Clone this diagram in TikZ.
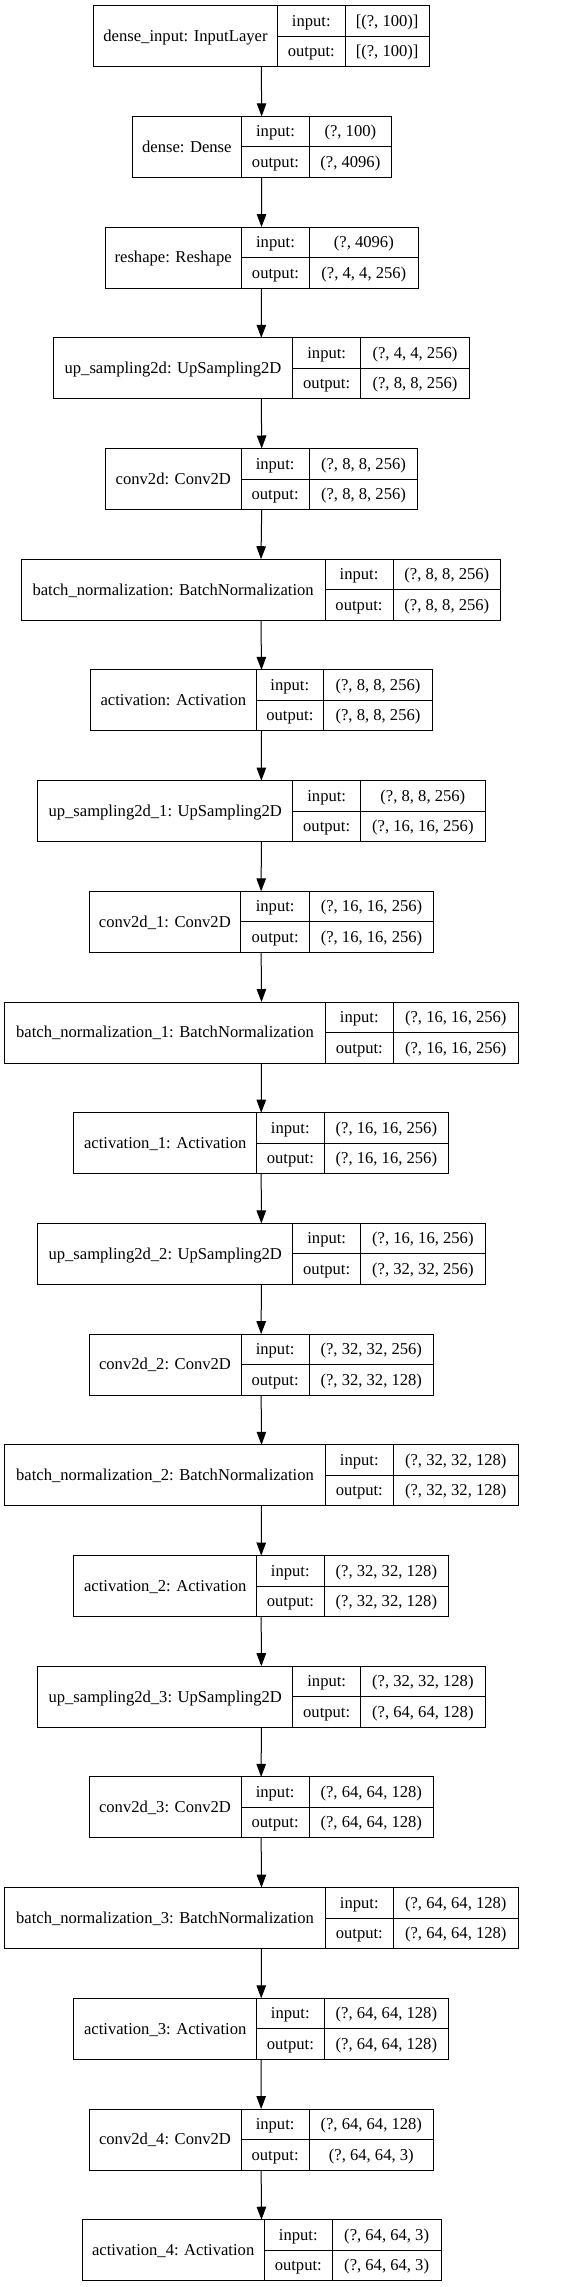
\documentclass[tikz,border=0pt]{standalone}
\usepackage{fontspec}
\setmainfont{Liberation Serif}
\usetikzlibrary{arrows.meta}
\tikzset{
  layerframe/.style={draw=black, line width=1pt, rectangle, inner sep=0pt, outer sep=0pt, minimum height=61pt},
  cellline/.style={draw=black, line width=1pt},
  celltext/.style={anchor=base, inner sep=0pt, font=\fontsize{16.6}{20}\selectfont},
  flow/.style={draw=black, line width=1pt, -{Triangle[length=13pt, width=9.5pt]}}
}
\newcommand\layerbox[8]{%
  \pgfmathsetmacro\ytop{5.7+#1*110.7}%
  \pgfmathsetmacro\bw{#5-#2}%
  \pgfmathsetmacro\bx{(#2+#5)/2}%
  \pgfmathsetmacro\ymid{\ytop+30.5}%
  \node[layerframe, minimum width=\bw pt] (b#1) at (\bx,\ymid) {};
  \draw[cellline] (#3,\ytop) -- (#3,{\ytop+61});
  \draw[cellline] (#4,\ytop) -- (#4,{\ytop+61});
  \draw[cellline] (#3,\ymid) -- (#5,\ymid);
  \node[celltext] (n#1) at ({(#2+#3)/2},{\ymid+5.3}) {#6};
  \node[celltext] (i#1) at ({(#3+#4)/2},{\ytop+15.25+5.3}) {input:};
  \node[celltext] (o#1) at ({(#3+#4)/2},{\ytop+45.75+5.3}) {output:};
  \node[celltext] (iv#1) at ({(#4+#5)/2},{\ytop+15.25+5.3}) {#7};
  \node[celltext] (ov#1) at ({(#4+#5)/2},{\ytop+45.75+5.3}) {#8};
}
\begin{document}
\begin{tikzpicture}[x=1pt,y=-1pt]
\useasboundingbox (0,0) rectangle (565,2287);
\fill[white] (0,0) rectangle (565,2287);
\layerbox{0}{93.7}{277.3}{345.3}{429}{dense\_input: InputLayer}{[(?, 100)]}{[(?, 100)]}
\layerbox{1}{132.3}{241.3}{309.7}{391}{dense: Dense}{(?, 100)}{(?, 4096)}
\layerbox{2}{105}{241.3}{309.7}{418}{reshape: Reshape}{(?, 4096)}{(?, 4, 4, 256)}
\layerbox{3}{53.3}{292.7}{360.7}{469.3}{up\_sampling2d: UpSampling2D}{(?, 4, 4, 256)}{(?, 8, 8, 256)}
\layerbox{4}{105.7}{241}{309.3}{417.7}{conv2d: Conv2D}{(?, 8, 8, 256)}{(?, 8, 8, 256)}
\layerbox{5}{21.3}{325}{393}{500.7}{batch\_normalization: BatchNormalization}{(?, 8, 8, 256)}{(?, 8, 8, 256)}
\layerbox{6}{90.7}{256}{323.7}{432.3}{activation: Activation}{(?, 8, 8, 256)}{(?, 8, 8, 256)}
\layerbox{7}{37.7}{292.7}{360.7}{485}{up\_sampling2d\_1: UpSampling2D}{(?, 8, 8, 256)}{(?, 16, 16, 256)}
\layerbox{8}{89}{240.7}{309.7}{433.3}{conv2d\_1: Conv2D}{(?, 16, 16, 256)}{(?, 16, 16, 256)}
\layerbox{9}{4.7}{325.3}{393.3}{518.3}{batch\_normalization\_1: BatchNormalization}{(?, 16, 16, 256)}{(?, 16, 16, 256)}
\layerbox{10}{73.7}{256.7}{324}{448.7}{activation\_1: Activation}{(?, 16, 16, 256)}{(?, 16, 16, 256)}
\layerbox{11}{37.7}{292.7}{360.7}{485}{up\_sampling2d\_2: UpSampling2D}{(?, 16, 16, 256)}{(?, 32, 32, 256)}
\layerbox{12}{89}{241}{309.3}{433.3}{conv2d\_2: Conv2D}{(?, 32, 32, 256)}{(?, 32, 32, 128)}
\layerbox{13}{4.7}{325.3}{393.3}{518.3}{batch\_normalization\_2: BatchNormalization}{(?, 32, 32, 128)}{(?, 32, 32, 128)}
\layerbox{14}{73.7}{256.7}{324}{448.7}{activation\_2: Activation}{(?, 32, 32, 128)}{(?, 32, 32, 128)}
\layerbox{15}{37.7}{292.7}{360.7}{485}{up\_sampling2d\_3: UpSampling2D}{(?, 32, 32, 128)}{(?, 64, 64, 128)}
\layerbox{16}{89}{241}{309.3}{433.3}{conv2d\_3: Conv2D}{(?, 64, 64, 128)}{(?, 64, 64, 128)}
\layerbox{17}{4.7}{325.3}{393.3}{518.3}{batch\_normalization\_3: BatchNormalization}{(?, 64, 64, 128)}{(?, 64, 64, 128)}
\layerbox{18}{73.7}{256.7}{324}{448.7}{activation\_3: Activation}{(?, 64, 64, 128)}{(?, 64, 64, 128)}
\layerbox{19}{89}{241}{309.3}{433.3}{conv2d\_4: Conv2D}{(?, 64, 64, 128)}{(?, 64, 64, 3)}
\layerbox{20}{82}{264.3}{332.3}{441}{activation\_4: Activation}{(?, 64, 64, 3)}{(?, 64, 64, 3)}
\foreach \a [evaluate=\a as \b using int(\a+1)] in {0,...,19} {
  \draw[flow] (b\a.south) -- (b\b.north);
}
\end{tikzpicture}
\end{document}
